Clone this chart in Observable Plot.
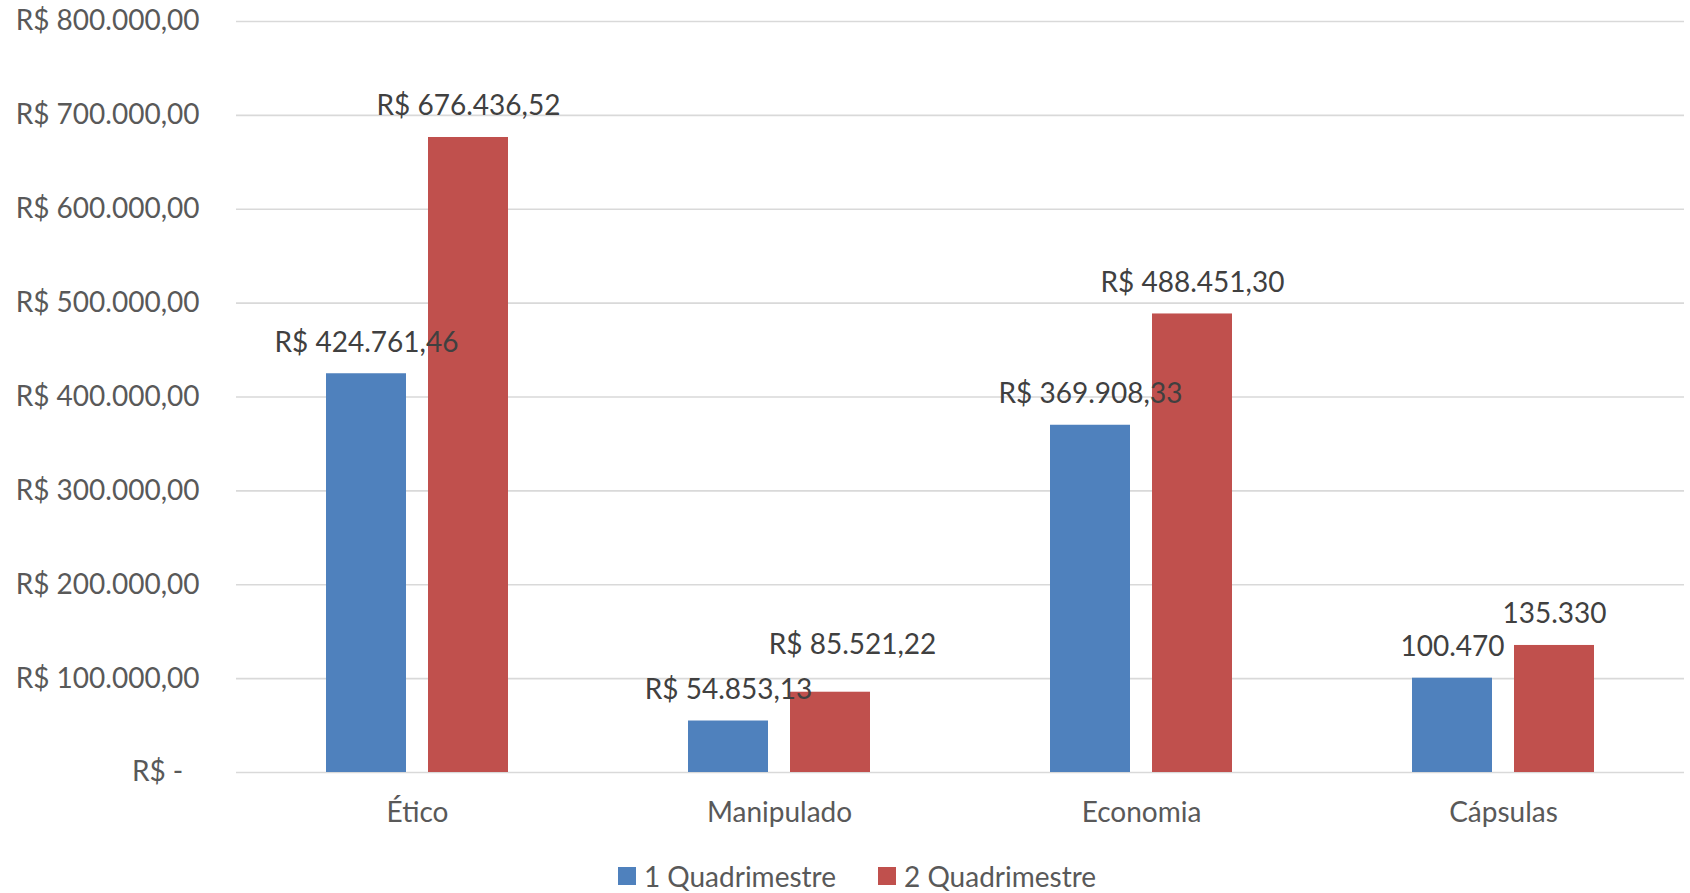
<!DOCTYPE html>
<html><head><meta charset="utf-8">
<script src="https://cdn.jsdelivr.net/npm/d3@7"></script>
<script src="https://cdn.jsdelivr.net/npm/@observablehq/plot@0.6"></script>
<style>
body{margin:0;background:#fff;font-family:Lato,sans-serif}
#legend{display:flex;justify-content:center;align-items:center;height:30px;line-height:30px;margin-top:16px;padding-left:24px;font-size:28px;color:#595959}
.item{display:flex;align-items:center;margin:0 21px}
.sw{width:18px;height:18px;margin-right:8px}
</style>
</head><body><div id="chart"></div><div id="legend"></div><script>
const categories = ["Ético", "Manipulado", "Economia", "Cápsulas"];
const series = ["1 Quadrimestre", "2 Quadrimestre"];
const q1Values = [424761.46, 54853.13, 369908.33, 100470];
const q2Values = [676436.52, 85521.22, 488451.30, 135330];
const q1Labels = ["R$ 424.761,46", "R$ 54.853,13", "R$ 369.908,33", "100.470"];
const q2Labels = ["R$ 676.436,52", "R$ 85.521,22", "R$ 488.451,30", "135.330"];
const yTicks = [0, 100000, 200000, 300000, 400000, 500000, 600000, 700000, 800000];
const colors = ["#4F81BD", "#C0504D"];

const data = [];
categories.forEach((c, i) => {
  data.push({cat: c, series: series[0], value: q1Values[i], label: q1Labels[i]});
  data.push({cat: c, series: series[1], value: q2Values[i], label: q2Labels[i]});
});
// Excel nudged one label to avoid overlap
const isNudged = d => d.cat === "Manipulado" && d.series === series[1];

const loc = d3.formatLocale({decimal: ",", thousands: ".", grouping: [3], currency: ["R$ ", ""]});
const fmt = loc.format(",.2f");
const yFmt = v => v === 0 ? "R$ -\u2007" : "R$ " + fmt(v);

const chart = Plot.plot({
  width: 1690,
  height: 845,
  marginLeft: 234,
  marginRight: 5,
  marginTop: 21,
  marginBottom: 73,
  style: {fontFamily: "Lato, sans-serif", background: "#fff"},
  fx: {domain: categories, padding: 0, label: null},
  x: {domain: series, paddingInner: 0.2136, paddingOuter: 0.869, axis: null},
  y: {domain: [0, 800000], label: null},
  color: {domain: series, range: colors},
  marks: [
    Plot.gridY(yTicks, {stroke: "#d9d9d9", strokeOpacity: 1, strokeWidth: 1.6}),
    Plot.axisY(yTicks, {tickSize: 0, tickPadding: 37, tickFormat: yFmt, fontSize: 28, fill: "#595959", label: null}),
    Plot.axisFx({anchor: "bottom", tickSize: 0, tickPadding: 30, fontSize: 28, fill: "#595959", label: null}),
    Plot.barY(data, {fx: "cat", x: "series", y: "value", fill: "series"}),
    Plot.text(data.filter(d => !isNudged(d)), {fx: "cat", x: "series", y: "value", text: "label", dy: -31, fontSize: 28, fill: "#404040"}),
    Plot.text(data.filter(isNudged), {fx: "cat", x: "series", y: "value", text: "label", dx: 22, dy: -47, fontSize: 28, fill: "#404040"})
  ]
});
document.getElementById("chart").appendChild(chart);

const leg = document.getElementById("legend");
series.forEach((s, i) => {
  const it = document.createElement("div");
  it.className = "item";
  const sw = document.createElement("div");
  sw.className = "sw";
  sw.style.background = colors[i];
  const t = document.createElement("span");
  t.textContent = s;
  it.appendChild(sw); it.appendChild(t);
  leg.appendChild(it);
});
</script></body></html>
